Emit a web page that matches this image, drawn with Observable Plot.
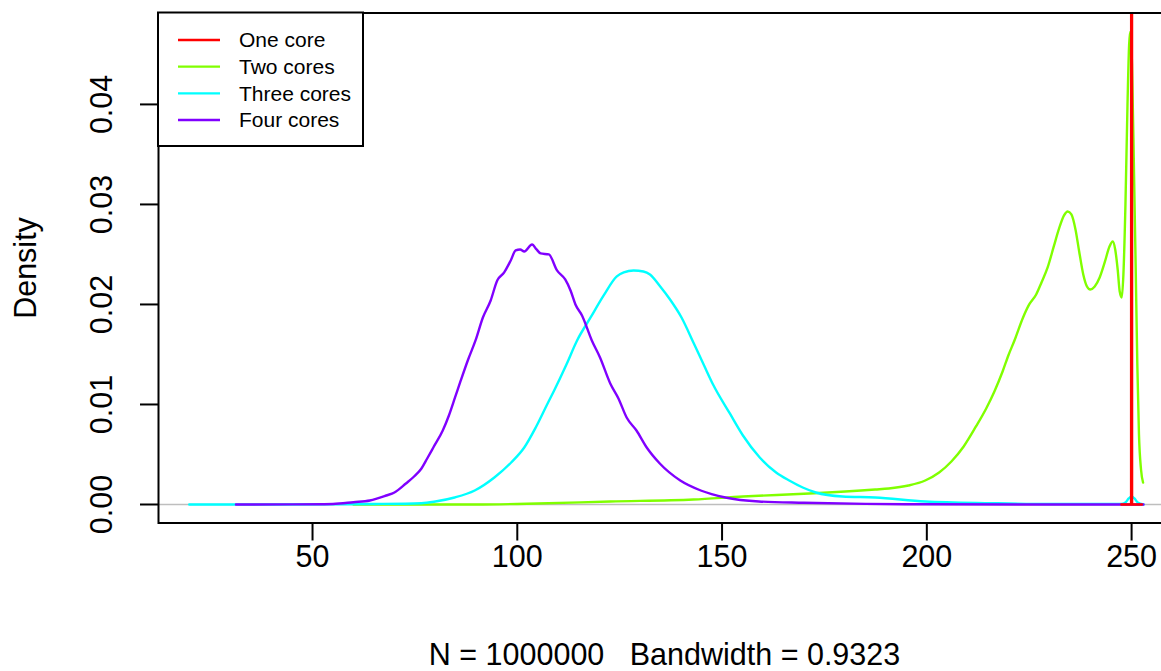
<!DOCTYPE html>
<html><head><meta charset="utf-8">
<script src="https://cdn.jsdelivr.net/npm/d3@7"></script>
<script src="https://cdn.jsdelivr.net/npm/@observablehq/plot@0.6"></script>
<style>
html,body{margin:0;padding:0;background:#fff;overflow:hidden;width:1161px;height:671px}
#wrap{position:relative;width:1161px;height:671px;overflow:hidden;font-family:"Liberation Sans",Arial,Helvetica,sans-serif}
#wrap svg{position:absolute;left:0;top:0;max-width:none}
</style></head><body><div id="wrap"></div>
<script>
// ---- data (x = cycles, y = density) ----
const seriesNames = ["One core", "Two cores", "Three cores", "Four cores"];
const seriesColors = ["#FF0000", "#80FF00", "#00FFFF", "#8000FF"];
const xTicks = [50, 100, 150, 200, 250];
const yTicks = [0, 0.01, 0.02, 0.03, 0.04];
const caption = "N = 1000000   Bandwidth = 0.9323";
const yLabel = "Density";

const oneCore = [[247.5,0],[249.88,0],[250,0.5],[250.12,0],[252.5,0]];

const twoCores = [[60,0],[90,0],[105,0.0001],[122.7,0.0003],[143,0.0005],[155.1,0.0008],[171.3,0.0011],
 [187.4,0.0015],[190.7,0.0016],[195.5,0.0019],[199.6,0.0024],[203,0.0032],[206,0.0043],[209,0.0058],
 [212,0.0078],[214.5,0.0096],[216.5,0.0113],[218.5,0.0133],[220,0.0150],[221.4,0.0164],[223.5,0.0187],
 [225,0.0200],[226.7,0.0210],[228,0.0222],[229.5,0.0237],[231,0.0258],[232.3,0.0276],[233.5,0.0289],
 [234.4,0.0293],[235.3,0.0290],[236.3,0.0275],[237.2,0.0253],[238.2,0.0230],[239.1,0.0218],[239.9,0.0215],
 [241,0.0218],[242.2,0.0227],[243.5,0.0243],[244.6,0.0258],[245.4,0.0263],[246.0,0.0255],[246.6,0.0235],
 [247.1,0.0213],[247.6,0.0207],[248.0,0.0230],[248.5,0.0300],[249.0,0.0400],[249.4,0.0460],[249.7,0.0473],
 [250.1,0.0440],[250.6,0.0330],[251.0,0.0237],[251.4,0.0140],[251.8,0.0070],[252.3,0.0035],[252.8,0.0022]];

const threeCores = [[19.9,0],[40,0],[55,0.00002],[65,0.00005],[76.6,0.00013],[80,0.0003],[84.7,0.0007],
 [89.6,0.0014],[94.4,0.0027],[98.5,0.0042],[101.7,0.0057],[104.5,0.0077],[107.4,0.0101],[109,0.0114],
 [112,0.0140],[114.6,0.0164],[117.9,0.0187],[121.1,0.0209],[124.3,0.0228],[126,0.0232],[128.4,0.0234],
 [130.8,0.0233],[132.4,0.0230],[134.9,0.0218],[137.3,0.0205],[140.1,0.0187],[143,0.0162],[145.5,0.0140],
 [147.8,0.0120],[151.9,0.0091],[155.1,0.0069],[159.2,0.0047],[163.2,0.0032],[166.4,0.0024],[169.7,0.0017],
 [172.9,0.0012],[179.4,0.0008],[187.4,0.0007],[199.6,0.0003],[215.8,0.00013],[230,0.00005],[247.5,0.00005],
 [248.5,0.0002],[249.3,0.0006],[250.0,0.0008],[250.7,0.0006],[251.5,0.0002],[252.9,0]];

const fourCores = [[31.3,0],[45,0.00001],[55,0.00005],[60,0.00023],[64,0.0004],[68,0.0009],[70,0.0012],
 [72.8,0.0021],[74.8,0.0028],[76.6,0.0036],[78,0.0046],[79.5,0.0057],[81.8,0.0074],[83.3,0.0089],[84.8,0.0107],
 [86.2,0.0124],[88,0.0145],[89.8,0.0164],[91.6,0.0187],[93.5,0.0204],[95.1,0.0224],[96.8,0.0232],[98.4,0.0244],
 [99.6,0.0254],[100.7,0.0255],[101.7,0.0253],[103.6,0.0260],[104.7,0.0255],[105.7,0.0251],[107.7,0.0250],
 [109.7,0.0234],[111.7,0.0225],[113,0.0214],[114.2,0.0200],[115.8,0.0189],[118.2,0.0164],[120.2,0.0147],
 [122.7,0.0121],[124.7,0.0106],[126.7,0.0087],[129.1,0.0074],[131.6,0.0057],[134.8,0.0041],[139.8,0.0024],
 [144.8,0.0014],[150.8,0.0007],[159,0.0003],[170,0.00017],[185,0.00006],[200,0.00002],[230,0],[252.9,0]];

const seriesData = [oneCore, twoCores, threeCores, fourCores];
const rows = seriesData.flatMap((arr, i) => arr.map(([x, y]) => ({series: seriesNames[i], x, y})));
const drawOrder = [1, 2, 3, 0];

const font = '"Liberation Sans", Arial, Helvetica, sans-serif';
const fs = 30.5;

const chart = Plot.plot({
  width: 1170, height: 671,
  marginLeft: 158, marginRight: 0, marginTop: 12.5, marginBottom: 148.5,
  style: {fontFamily: font, background: "white", overflow: "visible", maxWidth: "none"},
  x: {domain: [12.39, 259.5]},
  y: {domain: [-0.00185, 0.04914]},
  marks: [
    Plot.ruleY([0], {stroke: "#BEBEBE", strokeWidth: 1.5}),
    ...drawOrder.map(i => Plot.line(rows.filter(d => d.series === seriesNames[i]),
      {x: "x", y: "y", stroke: seriesColors[i], strokeWidth: 2.4, curve: "monotone-x", clip: true})),
    Plot.frame({stroke: "black", strokeWidth: 2}),
    Plot.axisX({ticks: xTicks, tickSize: 18, tickPadding: 4, fontSize: fs, strokeWidth: 2, label: null, fill: "black", stroke: "black"}),
    Plot.axisY({ticks: yTicks, tickFormat: d3.format(".2f"), tickSize: 18, tickPadding: 28.5, tickRotate: -90,
      fontSize: fs, strokeWidth: 2, label: null, fill: "black", stroke: "black"}),
    Plot.text([yLabel], {frameAnchor: "left", dx: -123, rotate: -90, textAnchor: "middle", lineAnchor: "bottom", fontSize: fs, fill: "black"}),
    Plot.text([caption], {frameAnchor: "bottom", dy: 142, lineAnchor: "bottom", textAnchor: "middle", fontSize: fs, fill: "black"})
  ]
});
document.getElementById("wrap").appendChild(chart);

// legend overlay
const lg = d3.select("#wrap").append("svg").attr("width", 1161).attr("height", 671).style("pointer-events", "none");
lg.append("rect").attr("x", 158).attr("y", 12.5).attr("width", 205).attr("height", 133.5)
  .attr("fill", "white").attr("stroke", "black").attr("stroke-width", 2);
seriesNames.forEach((name, i) => {
  const yy = 40 + i * 26.67;
  lg.append("line").attr("x1", 178).attr("x2", 220).attr("y1", yy).attr("y2", yy)
    .attr("stroke", seriesColors[i]).attr("stroke-width", 2.4);
  lg.append("text").attr("x", 239).attr("y", yy).attr("dy", "0.35em")
    .attr("font-size", 21).attr("font-family", font).attr("fill", "black").text(name);
});
</script></body></html>
